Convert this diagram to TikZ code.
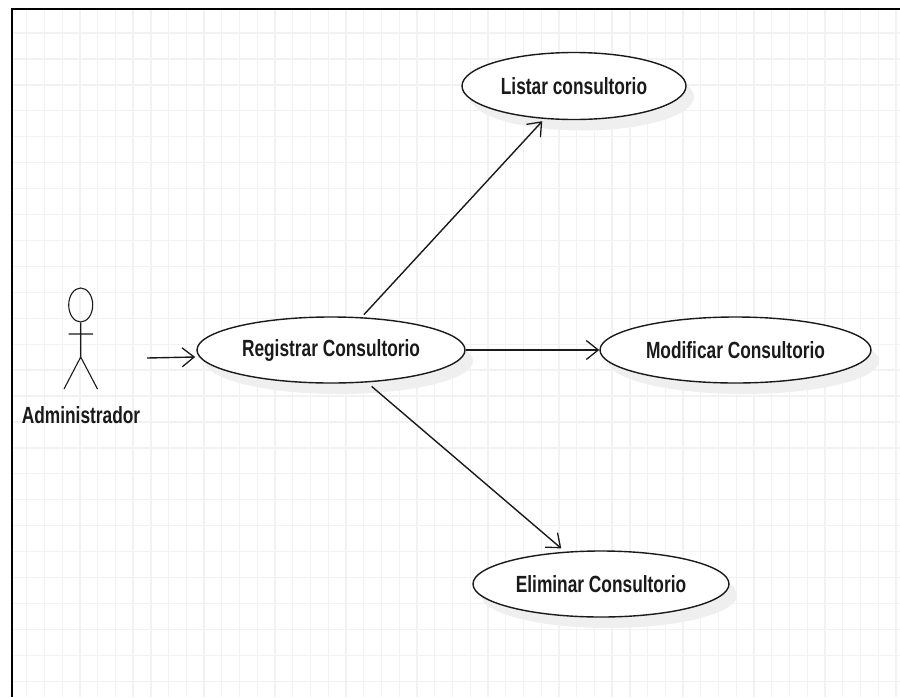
\documentclass[tikz,border=0pt]{standalone}
\usepackage{fontspec}
\setmainfont{Liberation Sans}[FakeStretch=0.74]
\usetikzlibrary{shapes.geometric,shadows,arrows.meta}
\definecolor{gridc}{HTML}{F2F2F2}
\definecolor{shadowc}{HTML}{EFEFEF}
\definecolor{inkc}{HTML}{1A1A1A}
\tikzset{
  x=1pt,y=-1pt,
  usecase/.style={ellipse,draw=inkc,line width=1.4pt,fill=white,inner sep=0pt,
    font=\fontsize{23.4}{26}\selectfont\bfseries,text=inkc,
    drop shadow={shadow xshift=8pt,shadow yshift=-11pt,fill=shadowc,opacity=1}},
  assoc/.style={draw=inkc,line width=1.4pt,-{Straight Barb[length=12pt,width=19pt,line width=1.3pt]}},
  stick/.style={draw=inkc,line width=1.1pt},
  frameline/.style={draw=black,line width=1.8pt},
  gridline/.style={draw=gridc,line width=1.3pt},
}
\begin{document}
\begin{tikzpicture}
\useasboundingbox (0,0) rectangle (900,697);
\fill[white] (0,0) rectangle (900,697);
% grid
\foreach \k in {0,...,49} \draw[gridline] ({26.7+17.74*\k},9) -- ({26.7+17.74*\k},697);
\foreach \k in {0,...,25} \draw[gridline] (12,{33+25.93*\k}) -- (900,{33+25.93*\k});
% frame
\draw[frameline] (12,697) -- (12,8.7) -- (900,8.7);
% use cases
\node[usecase,minimum width=224pt,minimum height=67pt] (listar) at (574,86) {Listar consultorio};
\node[usecase,minimum width=268pt,minimum height=66pt] (registrar) at (331,350) {Registrar Consultorio};
\node[usecase,minimum width=271pt,minimum height=66pt] (modificar) at (735.5,350) {Modificar Consultorio};
\node[usecase,minimum width=256pt,minimum height=66pt] (eliminar) at (601,584) {Eliminar Consultorio};
% actor
\node[ellipse,draw=inkc,line width=1.1pt,minimum width=24pt,minimum height=34pt,inner sep=0pt] (head) at (80.7,305) {};
\coordinate (hip) at (80.7,357);
\coordinate (armL) at (68.5,334);
\coordinate (armR) at (93,334);
\coordinate (legL) at (64,389);
\coordinate (legR) at (97.5,389);
\draw[stick] (head.south) -- (hip) (armL) -- (armR) (legL) -- (hip) -- (legR);
\node[font=\fontsize{23.4}{26}\selectfont\bfseries,text=inkc,inner sep=0pt] (admin) at (81,415) {Administrador};
% connectors
\coordinate (actorhand) at (147,358);
\draw[assoc,shorten >=4pt] (actorhand) -- (registrar.183);
\draw[assoc,shorten <=3.5pt,shorten >=3pt] (registrar.47.6) -- (listar.-132.4);
\draw[assoc] (registrar.east) -- (modificar.west);
\draw[assoc,shorten <=6pt,shorten >=5pt] (registrar.-42) -- (eliminar.138.8);
\end{tikzpicture}
\end{document}
